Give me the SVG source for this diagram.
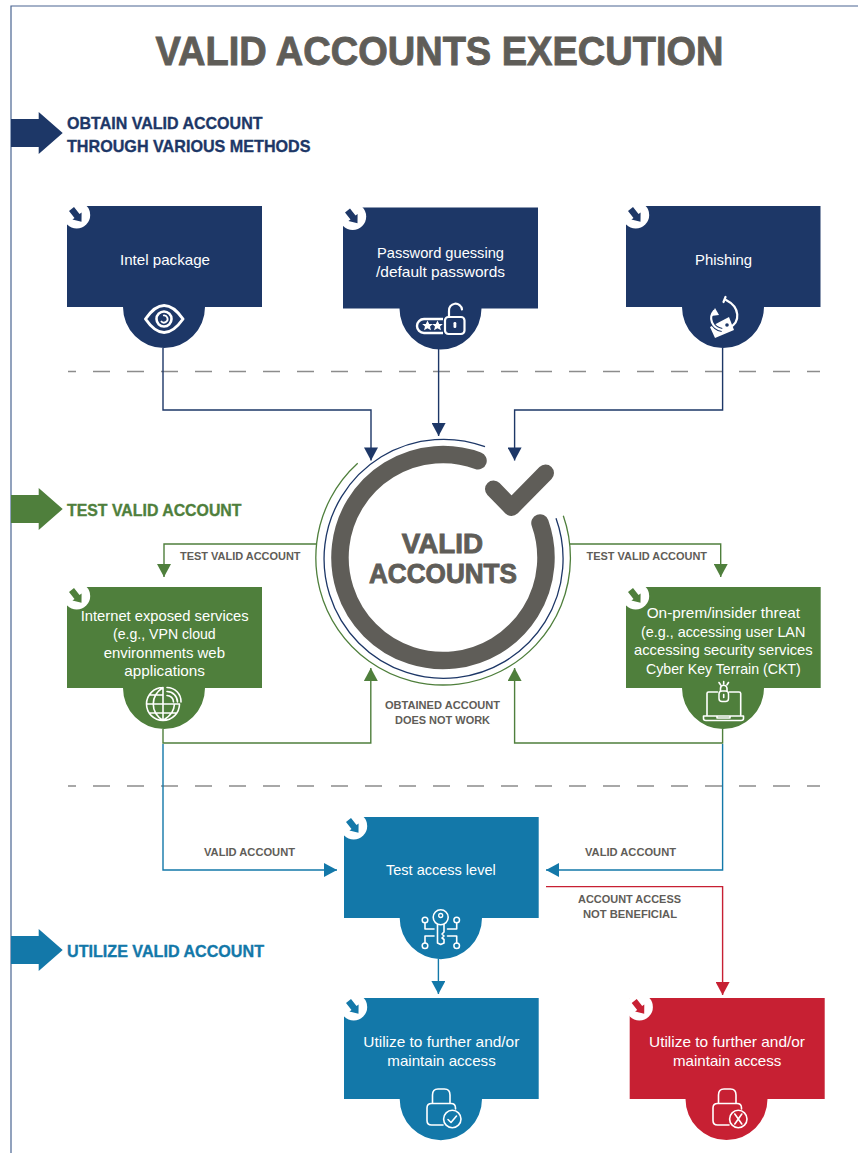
<svg xmlns="http://www.w3.org/2000/svg" width="858" height="1153" viewBox="0 0 858 1153">
<style>
text{font-family:"Liberation Sans",Arial,sans-serif}
.node{fill:#fff;font-size:14.5px;text-anchor:start}
.lab{fill:#5f5d58;font-size:11px;font-weight:700}
.sec{font-size:17px;font-weight:700;stroke:currentColor;stroke-width:.35px}
.ttl{fill:#5f5d58;font-weight:700;stroke:#5f5d58;stroke-width:.9px}
.c{fill:none;stroke-width:1.4}
.ic{fill:none;stroke:#fff;stroke-width:1.6;stroke-linecap:round;stroke-linejoin:round}
.icf{fill:#fff;stroke:none}
.navy{color:#1d3767}.green{color:#4f7f3c}.blue{color:#1378a9}.red{color:#c72033}
.fillc{fill:currentColor}
.dash{stroke:#8c8c8c;stroke-width:1.3;stroke-dasharray:17 17;stroke-dashoffset:9;fill:none}
</style>
<defs>
<marker id="mN" markerUnits="userSpaceOnUse" markerWidth="14" markerHeight="14" viewBox="0 0 13 14" refX="13" refY="7" orient="auto"><path d="M0 0L13 7L0 14Z" fill="#1d3767"/></marker>
<marker id="mG" markerUnits="userSpaceOnUse" markerWidth="14" markerHeight="14" viewBox="0 0 13 14" refX="13" refY="7" orient="auto"><path d="M0 0L13 7L0 14Z" fill="#4f7f3c"/></marker>
<marker id="mB" markerUnits="userSpaceOnUse" markerWidth="14" markerHeight="14" viewBox="0 0 13 14" refX="13" refY="7" orient="auto"><path d="M0 0L13 7L0 14Z" fill="#1378a9"/></marker>
<marker id="mR" markerUnits="userSpaceOnUse" markerWidth="14" markerHeight="14" viewBox="0 0 13 14" refX="13" refY="7" orient="auto"><path d="M0 0L13 7L0 14Z" fill="#c72033"/></marker>
<g id="badge"><circle cx="9.700" cy="9" r="13.500" fill="#fff"/><path class="fillc" d="M7 1.100L12.500 8.100L14.600 6.500L14.500 15.700L5.400 13.500L7.500 11.900L2 4.900Z"/></g>
<path id="sarrow" class="fillc" d="M11 -14H38.700V-21L62.700 0L38.700 21V14H11Z"/>
</defs>
<rect width="858" height="1153" fill="#fff"/>
<path d="M11 1153V6H858" fill="none" stroke="#4a6592" stroke-width="1.200"/>
<text id="title" class="ttl" x="155.500" y="65" font-size="40" textLength="568" lengthAdjust="spacingAndGlyphs">VALID ACCOUNTS EXECUTION</text>

<g id="section-obtain" class="navy"><use href="#sarrow" y="133"/><text class="sec" fill="#1d3767" x="67" y="129.300" textLength="195.500" lengthAdjust="spacingAndGlyphs">OBTAIN VALID ACCOUNT</text><text class="sec" fill="#1d3767" x="67" y="151.500" textLength="243.500" lengthAdjust="spacingAndGlyphs">THROUGH VARIOUS METHODS</text></g>
<g id="section-test" class="green"><use href="#sarrow" y="509"/><text class="sec" fill="#4f7f3c" x="67" y="516" textLength="174.500" lengthAdjust="spacingAndGlyphs">TEST VALID ACCOUNT</text></g>
<g id="section-utilize" class="blue"><use href="#sarrow" y="950"/><text class="sec" fill="#1378a9" x="67" y="957" textLength="197" lengthAdjust="spacingAndGlyphs">UTILIZE VALID ACCOUNT</text></g>

<path class="dash" d="M68 371.500H820"/>
<path class="dash" d="M68 786H820"/>

<g id="connectors">
<path class="c" stroke="#1d3767" marker-end="url(#mN)" d="M163 348V410H371V460.500"/>
<path class="c" stroke="#1d3767" marker-end="url(#mN)" d="M438.600 349V436"/>
<path class="c" stroke="#1d3767" marker-end="url(#mN)" d="M722.600 348V410H514.600V460.500"/>
<path class="c" stroke="#4f7f3c" marker-end="url(#mG)" d="M316 544H164V577"/>
<path class="c" stroke="#4f7f3c" marker-end="url(#mG)" d="M570 544H720.700V577"/>
<path class="c" stroke="#4f7f3c" marker-end="url(#mG)" d="M163 729V743H370.800V668"/>
<path class="c" stroke="#4f7f3c" marker-end="url(#mG)" d="M722.600 729V743H514.600V668"/>
<path class="c" stroke="#1378a9" marker-end="url(#mB)" d="M163 744V870H337"/>
<path class="c" stroke="#1378a9" marker-end="url(#mB)" d="M722.600 744V870H546"/>
<path class="c" stroke="#1378a9" marker-end="url(#mB)" d="M438.400 959V994"/>
<path class="c" stroke="#c72033" marker-end="url(#mR)" d="M546 886.600H722.600V995"/>
</g>

<g id="labels">
<text class="lab" x="180" y="560" textLength="120.500" lengthAdjust="spacingAndGlyphs">TEST VALID ACCOUNT</text>
<text class="lab" x="586.500" y="560" textLength="120.500" lengthAdjust="spacingAndGlyphs">TEST VALID ACCOUNT</text>
<text class="lab" x="385" y="709" textLength="115" lengthAdjust="spacingAndGlyphs">OBTAINED ACCOUNT</text>
<text class="lab" x="395" y="724" textLength="95" lengthAdjust="spacingAndGlyphs">DOES NOT WORK</text>
<text class="lab" x="204" y="856" textLength="91" lengthAdjust="spacingAndGlyphs">VALID ACCOUNT</text>
<text class="lab" x="585" y="856" textLength="91" lengthAdjust="spacingAndGlyphs">VALID ACCOUNT</text>
<text class="lab" x="578" y="903" textLength="103" lengthAdjust="spacingAndGlyphs">ACCOUNT ACCESS</text>
<text class="lab" x="583" y="918" textLength="94" lengthAdjust="spacingAndGlyphs">NOT BENEFICIAL</text>
</g>

<g id="node-valid-accounts">
<path d="M357.700 463.300A127.300 127.300 0 1 0 563.300 515.700" fill="none" stroke="#4f7f3c" stroke-width="1.300"/>
<path d="M485 446.700A119.500 119.500 0 1 0 556 518.300" fill="none" stroke="#1d3767" stroke-width="1.300"/>
<path d="M478 460.700A103 103 0 1 0 540 523" fill="none" stroke="#5f5d58" stroke-width="17.500" stroke-linecap="round"/>
<path d="M493.500 489L511.500 507.500L545.500 473" fill="none" stroke="#5f5d58" stroke-width="17" stroke-linecap="round" stroke-linejoin="round"/>
<text class="ttl" x="401.700" y="553.300" font-size="27" textLength="81.300" lengthAdjust="spacingAndGlyphs">VALID</text>
<text class="ttl" x="369" y="582.700" font-size="27" textLength="148" lengthAdjust="spacingAndGlyphs">ACCOUNTS</text>
</g>

<g id="node-intel" class="navy">
<path class="fillc" d="M67 206H262V307H205A41 41 0 0 1 123 307H67Z"/><use href="#badge" x="67" y="206"/>
<text class="node" x="120" y="264.700" textLength="90" lengthAdjust="spacingAndGlyphs">Intel package</text>
<path d="M145.500 319Q164 292 183 319Q164 346 145.500 319Z" fill="none" stroke="#fff" stroke-width="3" stroke-linejoin="round"/>
<circle cx="164" cy="319" r="7.500" fill="none" stroke="#fff" stroke-width="2.600"/>
<path d="M163 315.500A3.600 3.600 0 1 1 161 321" fill="none" stroke="#fff" stroke-width="1.800"/>
</g>

<g id="node-password" class="navy">
<path class="fillc" d="M343 207.500H538V308.500H481.500A41 41 0 0 1 399.500 308.500H343Z"/><use href="#badge" x="343" y="207.500"/>
<text class="node" x="377" y="258" textLength="127" lengthAdjust="spacingAndGlyphs">Password guessing</text>
<text class="node" x="376" y="277" textLength="129" lengthAdjust="spacingAndGlyphs">/default passwords</text>
<path d="M443 319H424A7 7 0 0 0 424 333H443" fill="none" stroke="#fff" stroke-width="2.400"/>
<path class="icf" d="M427.500 320.500l1.700 3.500h3.600l-2.800 2.500 1 3.800-3.500-2.100-3.500 2.100 1-3.800-2.800-2.500h3.600ZM437.500 320.500l1.700 3.500h3.600l-2.800 2.500 1 3.800-3.500-2.100-3.500 2.100 1-3.800-2.800-2.500h3.600Z"/>
<rect x="445" y="317" width="19.500" height="17" rx="3.500" fill="none" stroke="#fff" stroke-width="2.200"/>
<path d="M449 317V311A6.500 6.500 0 0 1 462 309.500" fill="none" stroke="#fff" stroke-width="2.200" stroke-linecap="round"/>
<rect x="453.500" y="322" width="2.800" height="6" rx="1.200" fill="#fff"/>
</g>

<g id="node-phishing" class="navy">
<path class="fillc" d="M626 206H820.500V307H764A41 41 0 0 1 682 307H626Z"/><use href="#badge" x="626" y="206"/>
<text class="node" x="695" y="264.700" textLength="57" lengthAdjust="spacingAndGlyphs">Phishing</text>
<path class="icf" d="M710 327L729 317L734 330L715 338Z"/>
<circle cx="727" cy="325" r="1.800" fill="#1d3767"/>
<path d="M726 300C740 307 741 322 729 328" fill="none" stroke="#fff" stroke-width="2.200" stroke-linecap="round"/>
<path d="M723.500 302L725.500 297" fill="none" stroke="#fff" stroke-width="2.200" stroke-linecap="round"/>
<path d="M714 311C708 318 712 328 722 330" fill="none" stroke="#1d3767" stroke-width="4"/>
<path d="M714 311C708 318 712 328 722 330" fill="none" stroke="#fff" stroke-width="2.200" stroke-linecap="round"/>
<path class="icf" d="M711 316L715 308L719 315Z"/>
</g>

<g id="node-internet" class="green">
<path class="fillc" d="M67 587H262V688H205A41 41 0 0 1 123 688H67Z"/><use href="#badge" x="67" y="587"/>
<text class="node" x="80.700" y="620.700" textLength="168" lengthAdjust="spacingAndGlyphs">Internet exposed services</text>
<text class="node" x="113" y="639.200" textLength="102.700" lengthAdjust="spacingAndGlyphs">(e.g., VPN cloud</text>
<text class="node" x="103.700" y="657.700" textLength="121.300" lengthAdjust="spacingAndGlyphs">environments web</text>
<text class="node" x="124.300" y="676" textLength="80.700" lengthAdjust="spacingAndGlyphs">applications</text>
<path class="ic" d="M163 687.500A16.500 16.500 0 1 0 179.500 704M163 687.500V720.500M163 687.500C150 696 150 712 163 720.500C172 715 174 710 174.500 704M147 704H179.500M150 695H163M149.500 713H177"/>
<path class="ic" d="M167 687.500A14 14 0 0 1 181 702M167 691.500A10.500 10.500 0 0 1 177.500 702M167 695.500A6.500 6.500 0 0 1 173.500 702"/>
</g>

<g id="node-onprem" class="green">
<path class="fillc" d="M626 587H820.700V688H764A41 41 0 0 1 682 688H626Z"/><use href="#badge" x="626" y="587"/>
<text class="node" x="646.700" y="618" textLength="153.300" lengthAdjust="spacingAndGlyphs">On-prem/insider threat</text>
<text class="node" x="641" y="636.500" textLength="164.300" lengthAdjust="spacingAndGlyphs">(e.g., accessing user LAN</text>
<text class="node" x="634" y="655" textLength="178.700" lengthAdjust="spacingAndGlyphs">accessing security services</text>
<text class="node" x="646" y="674" textLength="154.700" lengthAdjust="spacingAndGlyphs">Cyber Key Terrain (CKT)</text>
<path class="ic" d="M717.500 692H708.500Q707 692 707 693.500V715M729.500 692H739Q740.700 692 740.700 693.500V715M703.500 716H743.500V718.500Q743.500 720.500 741 720.500H706Q703.500 720.500 703.500 718.500ZM717 716.500V718H730V716.500"/>
<rect x="719" y="691" width="9.500" height="10.500" rx="3" fill="none" stroke="#fff" stroke-width="1.500"/>
<path class="ic" d="M720.500 691V688.500A3.200 3.200 0 0 1 727 688.500V691M723.700 694.500V697.500M719 682.500L720.500 684.800M723.700 681.500V684M728.500 682.500L727 684.800"/>
</g>

<g id="node-test-access" class="blue">
<path class="fillc" d="M344 817H538.700V918H482A41 41 0 0 1 399.700 918H344Z"/><use href="#badge" x="344" y="817"/>
<text class="node" x="386" y="875" textLength="109.700" lengthAdjust="spacingAndGlyphs">Test access level</text>
<circle cx="440.700" cy="917.300" r="7.500" fill="none" stroke="#fff" stroke-width="1.600"/>
<circle cx="440.700" cy="915.500" r="2" fill="none" stroke="#fff" stroke-width="1.300"/>
<path class="ic" d="M437.500 924.500V943L440.700 944.500L444 943V939.500L442 938L444 936L442 934L444 932V924.500"/>
<circle cx="425" cy="920" r="2.800" fill="none" stroke="#fff" stroke-width="1.500"/>
<circle cx="456.700" cy="920" r="2.800" fill="none" stroke="#fff" stroke-width="1.500"/>
<circle cx="425" cy="945.700" r="2.800" fill="none" stroke="#fff" stroke-width="1.500"/>
<circle cx="456.700" cy="945.700" r="2.800" fill="none" stroke="#fff" stroke-width="1.500"/>
<path class="ic" d="M425 923V929H434M456.700 923V929H447.500M425 943V936H434M456.700 943V936H447.500"/>
</g>

<g id="node-utilize-ok" class="blue">
<path class="fillc" d="M344 998H538.700V1099H482A41 41 0 0 1 399.700 1099H344Z"/><use href="#badge" x="344" y="998"/>
<text class="node" x="363.300" y="1047.300" textLength="156" lengthAdjust="spacingAndGlyphs">Utilize to further and/or</text>
<text class="node" x="387.300" y="1065.700" textLength="108.400" lengthAdjust="spacingAndGlyphs">maintain access</text>
<path class="ic" d="M455.500 1109V1108Q455.500 1103.500 451 1103.500H431.500Q427 1103.500 427 1108V1120.500Q427 1125 431.500 1125H443M432.500 1103.500V1095Q432.500 1089 438 1089H444.500Q450 1089 450 1095V1103.500"/>
<circle cx="452.300" cy="1119" r="8.700" fill="none" stroke="#fff" stroke-width="1.600"/>
<path class="ic" d="M448 1119.500L451 1122.500L456.500 1116"/>
</g>

<g id="node-utilize-no" class="red">
<path class="fillc" d="M629.700 998H824.700V1099H767.500A41 41 0 0 1 685.500 1099H629.700Z"/><use href="#badge" x="629.700" y="998"/>
<text class="node" x="649" y="1047.300" textLength="156" lengthAdjust="spacingAndGlyphs">Utilize to further and/or</text>
<text class="node" x="673" y="1065.700" textLength="108.300" lengthAdjust="spacingAndGlyphs">maintain access</text>
<path class="ic" d="M741.500 1109V1108Q741.500 1103.500 737 1103.500H717.500Q713 1103.500 713 1108V1120.500Q713 1125 717.500 1125H729M718.500 1103.500V1095Q718.500 1089 724 1089H730.500Q736 1089 736 1095V1103.500"/>
<circle cx="738.300" cy="1119" r="8.700" fill="none" stroke="#fff" stroke-width="1.600"/>
<path class="ic" d="M734.800 1114L741.800 1124M741.800 1114L734.800 1124"/>
</g>
</svg>
